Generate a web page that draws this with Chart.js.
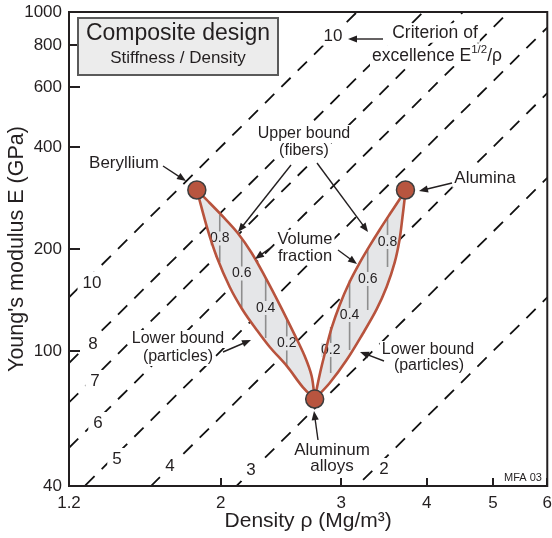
<!DOCTYPE html>
<html>
<head>
<meta charset="utf-8">
<script src="https://cdn.jsdelivr.net/npm/chart.js@4.4.0/dist/chart.umd.min.js"></script>
<style>
  html, body { margin: 0; padding: 0; background: #fff; }
</style>
</head>
<body>
<canvas id="chart" width="552" height="538"></canvas>
<script>
// Composite design chart: Young's modulus vs density, log-log

const densityTicks = [1.2, 2, 3, 4, 5, 6];
const modulusTicks = [40, 100, 200, 400, 600, 800, 1000];

// end members: Beryllium, Aluminum alloys, Alumina
const materialDensity = [1.845, 2.743, 3.723];
const materialModulus = [298.6, 72.2, 298.6];

// Be + Al lens, each bound read from Beryllium to Aluminum
const beAlUpperDensity = [1.845, 1.927, 2.020, 2.117, 2.219, 2.326, 2.439, 2.556, 2.652, 2.715, 2.743];
const beAlUpperModulus = [298.6, 273.4, 247.8, 223.0, 194.7, 164.3, 136.8, 113.1, 96.7, 84.4, 72.2];
const beAlLowerDensity = [1.845, 1.914, 1.973, 2.061, 2.153, 2.257, 2.358, 2.497, 2.635, 2.743];
const beAlLowerModulus = [298.6, 227.6, 189.5, 154.5, 132.2, 115.4, 102.8, 90.4, 78.3, 72.2];

// Al + Alumina lens, each bound read from Aluminum to Alumina
const alAluUpperDensity = [2.743, 2.789, 2.837, 2.904, 2.984, 3.085, 3.191, 3.300, 3.412, 3.529, 3.649, 3.723];
const alAluUpperModulus = [72.2, 85.0, 98.0, 117.0, 136.8, 159.9, 181.9, 204.2, 227.6, 252.8, 280.0, 298.6];
const alAluLowerDensity = [2.743, 2.885, 3.054, 3.223, 3.378, 3.494, 3.589, 3.649, 3.686, 3.711, 3.723];
const alAluLowerModulus = [72.2, 80.5, 94.1, 112.3, 132.7, 154.5, 181.9, 212.6, 248.6, 279.0, 298.6];

// volume fraction marks
const fractionLabels = ['0.8', '0.6', '0.4', '0.2'];
const beAlFractionDensity = [1.993, 2.146, 2.326, 2.497];
const beAlFractionTop = [252, 212.6, 164.3, 123.5];
const beAlFractionBottom = [183.1, 134.9, 109.3, 89.8];
const alAluFractionDensity = [3.505, 3.279, 3.085, 2.895];
const alAluFractionTop = [248.6, 201.4, 162.1, 117.8];
const alAluFractionBottom = [177, 132.2, 100.7, 86.2];

// criterion of excellence E^1/2 / rho guide lines
const criterionValues = [2, 3, 4, 5, 6, 7, 8, 10];

const INK = '#231f20';
const LENS_RED = '#b8533d';
const LENS_FILL = '#e5e6e8';
Chart.defaults.font.family = '"Liberation Sans", Arial, Helvetica, sans-serif';

function pts(xs, ys) {
    return xs.map((v, i) => ({x: v, y: ys[i]}));
}

const datasets = [];

// dots on top
datasets.push({
    data: pts(materialDensity, materialModulus),
    showLine: false,
    pointRadius: 9,
    pointHoverRadius: 9,
    pointBackgroundColor: '#b8553f',
    pointBorderColor: '#3d3d3d',
    pointBorderWidth: 1.5
});

// lens outlines
[[beAlUpperDensity, beAlUpperModulus], [beAlLowerDensity, beAlLowerModulus],
 [alAluUpperDensity, alAluUpperModulus], [alAluLowerDensity, alAluLowerModulus]].forEach(([xs, ys]) => {
    datasets.push({
        data: pts(xs, ys),
        borderColor: LENS_RED,
        borderWidth: 2.6,
        pointRadius: 0,
        tension: 0.35,
        fill: false
    });
});

// volume fraction lines (indices 5..12, drawn 12 first, 5 last)
const FRACTION_LAST = 5;
[[beAlFractionDensity, beAlFractionTop, beAlFractionBottom],
 [alAluFractionDensity, alAluFractionTop, alAluFractionBottom]].forEach(([xs, top, bot]) => {
    xs.forEach((v, i) => {
        datasets.push({
            data: [{x: v, y: bot[i]}, {x: v, y: top[i]}],
            borderColor: '#8e8e8e', borderWidth: 1.6, pointRadius: 0, fill: false
        });
    });
});

// lens fills: closed outline, upper bound out and lower bound back
[[beAlUpperDensity, beAlUpperModulus, beAlLowerDensity, beAlLowerModulus],
 [alAluUpperDensity, alAluUpperModulus, alAluLowerDensity, alAluLowerModulus]].forEach(([ux, uy, lx, ly]) => {
    const ring = pts(ux, uy).concat(pts(lx, ly).reverse());
    datasets.push({
        data: ring, borderColor: 'rgba(0,0,0,0)', borderWidth: 0,
        pointRadius: 0, tension: 0, fill: 'shape', backgroundColor: LENS_FILL
    });
});

// dashed guide lines, E = (C rho)^2
criterionValues.forEach(c => {
    datasets.push({
        data: [{x: 1.2, y: Math.pow(1.2 * c, 2)}, {x: 6, y: Math.pow(6 * c, 2)}],
        borderColor: '#111',
        borderWidth: 1.8,
        borderDash: [13, 10],
        pointRadius: 0,
        fill: false
    });
});

// text notes: [text, x, y, size]
const notes = [
    ['Beryllium', 124, 163, 17],
    ['Alumina', 485, 178, 17],
    ['Upper bound', 304, 134, 16],
    ['(fibers)', 304, 151, 16],
    ['Volume', 305, 239, 16.5],
    ['fraction', 305, 256, 16.5],
    ['Lower bound', 178, 339, 16],
    ['(particles)', 178, 357, 16],
    ['Lower bound', 428, 350, 16],
    ['(particles)', 429, 366, 16],
    ['Aluminum', 332, 450, 17],
    ['alloys', 332, 466, 17],
    ['Criterion of', 435, 33, 17.5],
    ['10', 333, 36, 17]
];
const lineLabels = [
    ['10', 92, 283], ['8', 93, 344], ['7', 95, 381], ['6', 98, 423],
    ['5', 117, 459], ['4', 170, 466], ['3', 251, 470], ['2', 384, 469]
];
const arrows = [
    [163, 166, 186, 181],
    [452, 183, 419, 191],
    [291, 165, 238, 232],
    [317, 163, 368, 232],
    [273, 246, 255, 259],
    [338, 250, 357, 264],
    [223, 352, 251, 340],
    [384, 361, 360, 352],
    [318, 440, 314, 411],
    [383, 39, 348, 39]
];

function font(size) {
    return size + 'px "Liberation Sans", Arial, Helvetica, sans-serif';
}

// pad: extra room round the background box
function drawText(ctx, text, cx, cy, size, bg, pad) {
    ctx.font = font(size);
    const w = ctx.measureText(text).width;
    if (bg) {
        const p = pad === undefined ? 4 : pad;
        ctx.fillStyle = bg;
        ctx.fillRect(cx - w / 2 - p, cy - size * 0.5 - p / 2, w + 2 * p, size + p);
    }
    ctx.fillStyle = INK;
    ctx.textAlign = 'center';
    ctx.textBaseline = 'middle';
    ctx.fillText(text, cx, cy);
}

function drawArrow(ctx, x1, y1, x2, y2) {
    const a = Math.atan2(y2 - y1, x2 - x1);
    const len = 9, half = 3.6;
    const c = Math.cos(a), s = Math.sin(a);
    ctx.beginPath();
    ctx.moveTo(x1, y1);
    ctx.lineTo(x2 - c * len * 0.7, y2 - s * len * 0.7);
    ctx.stroke();
    ctx.beginPath();
    ctx.moveTo(x2, y2);
    ctx.lineTo(x2 - c * len + s * half, y2 - s * len - c * half);
    ctx.lineTo(x2 - c * len - s * half, y2 - s * len + c * half);
    ctx.closePath();
    ctx.fill();
}

const notesPlugin = {
    id: 'notes',
    // fraction labels go on after the grey lines, below the red outlines
    afterDatasetDraw(chart, args) {
        if (args.index !== FRACTION_LAST) return;
        const {ctx, scales: {x, y}} = chart;
        ctx.save();
        [[beAlFractionDensity, beAlFractionTop, beAlFractionBottom],
         [alAluFractionDensity, alAluFractionTop, alAluFractionBottom]].forEach(([xs, top, bot]) => {
            xs.forEach((v, k) => {
                const px = x.getPixelForValue(v);
                const py = (y.getPixelForValue(top[k]) + y.getPixelForValue(bot[k])) / 2;
                drawText(ctx, fractionLabels[k], px, py, 14, LENS_FILL, 0);
            });
        });
        ctx.restore();
    },
    afterDatasetsDraw(chart) {
        const {ctx, chartArea: a, scales: {x, y}} = chart;
        ctx.save();

        // frame and inward ticks
        ctx.strokeStyle = INK;
        ctx.lineWidth = 2;
        ctx.strokeRect(a.left, a.top, a.right - a.left, a.bottom - a.top);
        modulusTicks.forEach(v => {
            const py = Math.round(y.getPixelForValue(v));
            ctx.beginPath(); ctx.moveTo(a.left, py); ctx.lineTo(a.left + 11, py); ctx.stroke();
        });
        densityTicks.forEach(v => {
            const px = Math.round(x.getPixelForValue(v));
            ctx.beginPath(); ctx.moveTo(px, a.bottom); ctx.lineTo(px, a.bottom - 8); ctx.stroke();
        });

        // title box
        ctx.fillStyle = '#ececec';
        ctx.fillRect(78, 18, 200, 57);
        ctx.strokeStyle = '#5a5a5a';
        ctx.lineWidth = 2;
        ctx.strokeRect(78, 18, 200, 57);
        drawText(ctx, 'Composite design', 178, 34, 23);
        drawText(ctx, 'Stiffness / Density', 178, 58, 17);

        notes.forEach(([t, cx, cy, sz]) => drawText(ctx, t, cx, cy, sz, '#fff', 2));
        lineLabels.forEach(([t, cx, cy]) => drawText(ctx, t, cx, cy, 17, '#fff', 5));

        // excellence E^1/2/rho
        const big = font(17.5), small = font(11.5);
        ctx.font = big;
        const w1 = ctx.measureText('excellence E').width;
        const w3 = ctx.measureText('/\u03c1').width;
        ctx.font = small;
        const w2 = ctx.measureText('1/2').width;
        const sx = 437 - (w1 + w2 + w3) / 2;
        ctx.fillStyle = '#fff';
        ctx.fillRect(sx - 2, 46, w1 + w2 + w3 + 4, 20);
        ctx.fillStyle = INK;
        ctx.textAlign = 'left';
        ctx.textBaseline = 'middle';
        ctx.font = big; ctx.fillText('excellence E', sx, 56);
        ctx.font = small; ctx.fillText('1/2', sx + w1, 50);
        ctx.font = big; ctx.fillText('/\u03c1', sx + w1 + w2, 56);

        ctx.strokeStyle = INK;
        ctx.fillStyle = INK;
        ctx.lineWidth = 1.4;
        arrows.forEach(([x1, y1, x2, y2]) => drawArrow(ctx, x1, y1, x2, y2));

        drawText(ctx, 'MFA 03', 523, 478, 11);
        ctx.restore();
    }
};

new Chart(document.getElementById('chart'), {
    type: 'line',
    data: {datasets: datasets},
    options: {
        responsive: false,
        animation: false,
        devicePixelRatio: 1,
        layout: {autoPadding: false, padding: {top: 12, right: 4, left: 0, bottom: 0}},
        plugins: {legend: {display: false}, tooltip: {enabled: false}},
        scales: {
            x: {
                type: 'logarithmic',
                min: 1.2,
                max: 6,
                grid: {display: false, drawTicks: false},
                border: {display: false},
                afterBuildTicks: s => { s.ticks = densityTicks.map(v => ({value: v})); },
                afterFit: s => { s.height = 52; },
                ticks: {autoSkip: false, maxRotation: 0, padding: 0, color: INK,
                        font: {size: 17, lineHeight: 2}, callback: v => String(v)},
                title: {display: true, text: 'Density \u03c1 (Mg/m\u00b3)', color: INK, font: {size: 21}, padding: {top: 0, bottom: 4}}
            },
            y: {
                type: 'logarithmic',
                min: 40,
                max: 1000,
                grid: {display: false, drawTicks: false},
                border: {display: false},
                afterBuildTicks: s => { s.ticks = modulusTicks.map(v => ({value: v})); },
                afterFit: s => { s.width = 69; s.paddingTop = 0; s.paddingBottom = 0; },
                ticks: {autoSkip: false, padding: 7, color: INK, font: {size: 17}, callback: v => String(v)},
                title: {display: true, text: "Young's modulus E (GPa)", color: INK, font: {size: 21.5}, padding: {top: 4, bottom: 0}}
            }
        }
    },
    plugins: [notesPlugin]
});
</script>
</body>
</html>
